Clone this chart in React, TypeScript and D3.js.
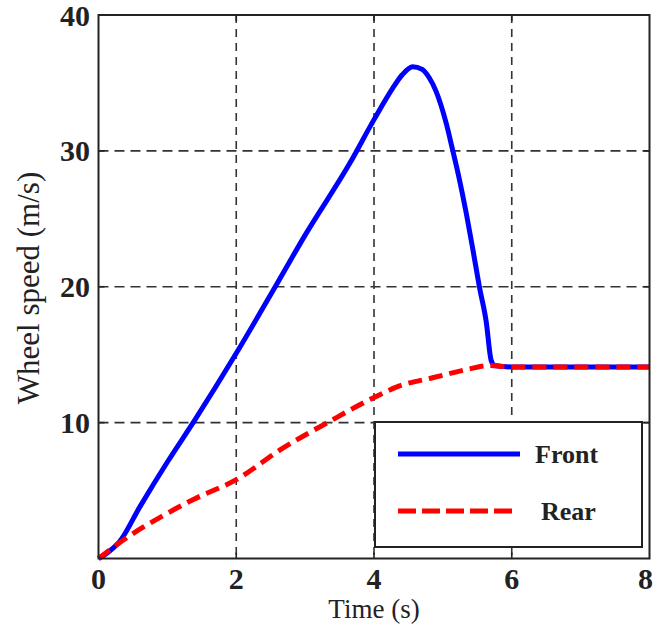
import React from "react";
import * as d3 from "d3";

const xTicks = [0, 2, 4, 6, 8];
const yTicks = [10, 20, 30, 40];
const yTickLabels = ["10", "20", "30", "40"];
const gridX = [2, 4, 6];
const gridY = [10, 20, 30];

const frontT = [0, 0.15, 0.3, 0.6, 1.0, 1.4, 2.0, 2.6, 3.0, 3.65, 4.0, 4.27, 4.41, 4.56, 4.7, 4.8, 4.9, 5.05, 5.14, 5.24, 5.34, 5.43, 5.53, 5.63, 5.7, 5.75, 6.0, 8.0];
const frontV = [0, 0.5, 1.2, 3.8, 7.1, 10.2, 15.1, 20.3, 23.8, 29.1, 32.3, 34.6, 35.6, 36.2, 36.0, 35.4, 34.4, 32.0, 30.1, 27.9, 25.4, 22.9, 20.0, 17.4, 14.6, 14.2, 14.1, 14.1];

const rearT = [0, 0.43, 0.92, 1.4, 2.0, 2.67, 3.36, 3.98, 4.37, 4.85, 5.34, 5.67, 6.0, 8.0];
const rearV = [0, 1.6, 3.1, 4.4, 5.8, 8.1, 10.1, 11.8, 12.7, 13.3, 13.9, 14.2, 14.1, 14.1];

const W = 655;
const H = 625;
const left = 98.5, right = 649.5, top = 15, bottom = 558.5;
const FONT = "'Liberation Serif', 'Times New Roman', serif";
const INK = "#222";

export default function App() {
  const x = d3.scaleLinear().domain([0, 8]).range([left, right]);
  const y = d3.scaleLinear().domain([0, 40]).range([bottom, top]);
  const line = d3.line<[number, number]>().x((d) => x(d[0])).y((d) => y(d[1])).curve(d3.curveMonotoneX);
  const front = line(frontT.map((t, i) => [t, frontV[i]]) as [number, number][]) || "";
  const rear = line(rearT.map((t, i) => [t, rearV[i]]) as [number, number][]) || "";

  const lg = { x0: 375, y0: 422, x1: 642, y1: 547 };

  return (
    <svg width={W} height={H} style={{ position: "absolute", left: 0, top: 0, background: "#fff" }}>
      <rect x={0} y={0} width={W} height={H} fill="#fff" />
      {/* grid */}
      {gridX.map((g) => (
        <line key={"gx" + g} x1={x(g)} x2={x(g)} y1={top} y2={bottom} stroke="#333" strokeWidth={1.6} strokeDasharray="8,6" />
      ))}
      {gridY.map((g) => (
        <line key={"gy" + g} x1={left} x2={right} y1={y(g)} y2={y(g)} stroke="#333" strokeWidth={1.6} strokeDasharray="10,6" />
      ))}
      {/* ticks inward */}
      {gridX.map((g) => (
        <g key={"tx" + g}>
          <line x1={x(g)} x2={x(g)} y1={bottom} y2={bottom - 6} stroke={INK} strokeWidth={1.6} />
          <line x1={x(g)} x2={x(g)} y1={top} y2={top + 6} stroke={INK} strokeWidth={1.6} />
        </g>
      ))}
      {gridY.map((g) => (
        <g key={"ty" + g}>
          <line x1={left} x2={left + 6} y1={y(g)} y2={y(g)} stroke={INK} strokeWidth={1.6} />
          <line x1={right} x2={right - 6} y1={y(g)} y2={y(g)} stroke={INK} strokeWidth={1.6} />
        </g>
      ))}
      {/* data */}
      <path d={front} fill="none" stroke="#0000ff" strokeWidth={5} strokeLinejoin="round" />
      <path d={rear} fill="none" stroke="#ff0000" strokeWidth={5} strokeDasharray="14,7" />
      {/* frame */}
      <rect x={left} y={top} width={right - left} height={bottom - top} fill="none" stroke={INK} strokeWidth={2} />
      {/* tick labels */}
      {xTicks.map((t, i) => (
        <text key={"xl" + t} x={i === xTicks.length - 1 ? x(t) - 4 : x(t)} y={589} textAnchor="middle" fontFamily={FONT} fontWeight="bold" fontSize={30} fill={INK}>
          {t}
        </text>
      ))}
      {yTicks.map((t, i) => (
        <text key={"yl" + t} x={90} y={y(t)} dy="0.35em" textAnchor="end" fontFamily={FONT} fontWeight="bold" fontSize={30} fill={INK}>
          {yTickLabels[i]}
        </text>
      ))}
      {/* axis titles */}
      <text x={(left + right) / 2} y={618} textAnchor="middle" fontFamily={FONT} fontSize={27} fill={INK}>
        Time (s)
      </text>
      <text transform={`translate(39, 288) rotate(-90)`} textAnchor="middle" fontFamily={FONT} fontSize={31} fill={INK}>
        Wheel speed (m/s)
      </text>
      {/* legend */}
      <rect x={lg.x0} y={lg.y0} width={lg.x1 - lg.x0} height={lg.y1 - lg.y0} fill="#fff" stroke={INK} strokeWidth={2} />
      <line x1={398} x2={520} y1={454} y2={454} stroke="#0000ff" strokeWidth={5} />
      <text x={535} y={463} fontFamily={FONT} fontWeight="bold" fontSize={26} fill={INK}>Front</text>
      <line x1={398} x2={514} y1={511} y2={511} stroke="#ff0000" strokeWidth={5} strokeDasharray="18,6" />
      <text x={541} y={520} fontFamily={FONT} fontWeight="bold" fontSize={26} fill={INK}>Rear</text>
    </svg>
  );
}
